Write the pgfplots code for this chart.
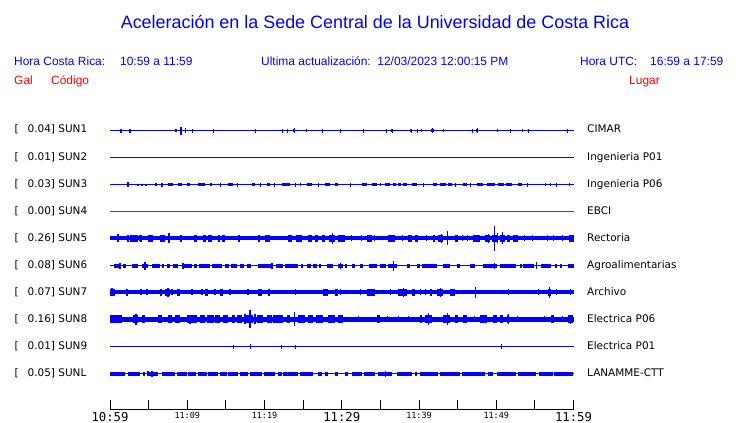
\documentclass[border=0pt]{standalone}
\usepackage{pgfplots}
\pgfplotsset{compat=1.18}
\usepackage{pgfplotstable}
\usepackage{fontspec}
\setmainfont{Liberation Sans}
\newfontfamily\dv{DejaVu Sans}
\newfontfamily\dvm{DejaVu Sans Mono}
\definecolor{tblue}{RGB}{0,0,255}
\definecolor{tred}{RGB}{255,0,0}

% ---------- SUN1 ----------
\pgfplotstableread{
t a
1.43 2
2.59 2
9.20 4
9.72 2.5
10.63 2
13.35 2
18.79 2
22.29 2
22.94 2
23.85 2.5
25.40 1.5
27.48 2
29.81 2
32.79 2
35.77 2
36.55 2
39.01 2
39.79 2
40.31 1.5
41.73 2.5
43.16 1.5
46.92 2
47.56 2.5
50.15 1.5
51.84 2
53.39 1.5
54.17 2
59.23 2
}\SunOneS
\pgfplotstableread{
t1 t2
8.42 8.68
9.07 9.33
23.72 23.98
36.42 36.68
38.88 39.14
41.60 41.99
47.43 47.69
}\SunOneB
% ---------- SUN3 ----------
\pgfplotstableread{
t a
2.33 2.5
3.63 1
4.15 1
4.67 1
6.74 2
14.26 2
16.46 2
19.44 2
21.25 2
23.98 2
24.62 1.5
26.96 2
31.10 2
34.99 1.5
40.56 2
44.71 2
46.66 2
54.04 2
56.38 1.5
57.02 1.5
57.80 2
59.49 1.5
}\SunThreeS
\pgfplotstableread{
t1 t2
5.83 6.09
7.52 8.16
8.81 9.33
9.98 10.37
11.40 12.31
12.96 13.22
15.29 15.94
18.40 18.79
20.35 20.74
22.29 23.33
25.53 26.18
27.86 28.51
29.16 29.55
32.66 33.31
33.96 34.60
35.64 36.29
36.68 37.06
37.32 37.71
37.97 38.49
39.14 39.79
41.86 42.38
42.77 43.55
43.81 44.32
45.75 46.27
47.56 48.34
48.86 49.89
50.28 51.06
51.32 52.10
52.75 53.39
}\SunThreeB
% ---------- SUN5 ----------
\pgfplotstableread{
t a
1.04 4
3.89 3
7.65 5
9.20 3.5
12.96 3.5
16.72 3.5
19.31 3.5
23.33 3
28.77 5.5
31.23 3
32.53 3
34.21 3
37.84 3
40.95 3
42.90 4.5
43.67 7
44.97 3
45.62 3
46.27 3
48.99 4.5
49.76 12.5
50.15 5
50.80 6
53.65 3
54.69 3
56.64 3
57.41 3
58.58 3
}\SunFiveS
\pgfplotstableread{
t1 t2
2.20 2.33
2.59 3.63
3.89 4.02
4.92 5.57
6.48 7.13
10.89 11.27
12.05 12.44
12.70 13.22
14.00 14.26
14.52 14.90
20.09 20.74
23.07 23.59
24.11 24.88
25.66 26.18
26.57 26.96
27.48 27.86
28.38 29.16
29.55 30.46
33.31 33.96
36.03 36.94
38.62 39.14
39.53 39.92
41.86 42.12
42.51 43.16
44.71 45.10
47.04 47.95
48.60 49.25
49.50 50.15
50.54 51.19
51.45 51.84
52.23 52.75
59.36 60.00
}\SunFiveB
% ---------- SUN6 ----------
\pgfplotstableread{
t a
1.30 3
4.54 4
9.46 3
20.99 3
29.81 3
36.68 5
49.76 3
55.21 3.5
}\SunSixS
\pgfplotstableread{
t1 t2
0.52 1.17
1.68 2.07
2.85 3.63
4.15 4.92
5.44 6.48
6.74 7.00
7.39 7.78
8.16 8.81
9.33 10.63
10.89 11.27
11.53 12.96
13.22 14.52
14.90 15.42
15.68 16.46
16.85 17.37
17.76 18.27
19.18 21.12
21.51 22.42
22.68 24.36
24.75 25.01
25.53 26.05
26.31 26.83
27.09 27.35
28.12 28.90
29.55 30.20
30.46 30.72
31.36 31.75
32.40 32.79
33.57 34.60
34.99 35.77
36.03 37.19
38.49 38.88
39.79 40.18
40.44 42.38
43.16 44.06
44.97 45.36
46.66 47.30
48.34 50.15
50.54 52.49
53.13 53.39
53.52 54.82
55.73 57.02
57.54 57.80
58.19 58.45
59.23 60.00
}\SunSixB
% ---------- SUN7 ----------
\pgfplotstableread{
t a
0.26 4
2.20 3.5
4.02 3
4.80 3
7.52 4.5
8.04 3
10.63 3
11.92 3
13.61 3
15.55 3
17.88 3
23.98 3
29.81 3
32.40 3
36.29 3
37.97 4.5
40.18 3
40.82 3
42.77 4.5
47.30 5.5
51.58 3
55.47 3
56.89 5.5
57.80 3
59.61 3
}\SunSevenS
\pgfplotstableread{
t1 t2
0.00 0.65
6.48 6.74
7.13 7.78
8.68 9.07
12.31 12.70
14.26 14.64
19.18 19.70
20.48 20.74
27.60 28.25
29.16 29.55
33.31 34.34
37.32 38.49
39.14 39.53
41.47 41.73
42.38 43.16
44.06 44.71
56.64 57.02
}\SunSevenB
% ---------- SUN8 ----------
\pgfplotstableread{
t a
3.37 5.5
10.37 4.5
13.35 4
17.50 5
18.14 9
18.79 5
23.85 7
27.48 4
32.14 3
35.90 3
37.32 3
38.62 3
41.21 6
43.67 6
47.17 3
50.54 4
51.58 5
52.75 3
56.25 3
58.58 3
59.61 4.5
}\SunEightS
\pgfplotstableread{
t1 t2
0.00 1.56
2.98 3.63
4.15 4.54
6.22 6.74
7.52 8.04
8.42 9.07
9.98 11.27
11.66 12.31
12.57 13.22
13.61 14.26
14.64 15.29
15.81 16.20
16.46 17.11
17.50 18.53
19.05 19.83
20.35 20.99
21.12 22.42
22.94 23.33
24.36 25.27
25.66 26.31
26.70 27.48
28.25 29.16
29.55 30.20
34.60 34.99
40.18 40.44
40.82 41.73
43.16 44.06
44.71 45.10
45.75 46.27
47.95 48.86
49.63 50.15
50.54 50.93
51.45 51.71
57.02 57.41
59.23 59.87
}\SunEightB
% ---------- SUN9 ----------
\pgfplotstableread{
t a
15.94 2
18.14 2.5
22.16 2
23.98 2
50.67 2.5
}\SunNineS
% ---------- SUNL ----------
\pgfplotstableread{
t a
4.92 2.5
5.44 3
35.64 3
}\SunLS
\pgfplotstableread{
t1 t2
0.00 1.94
2.33 3.89
4.28 4.54
4.92 6.22
6.74 8.42
8.68 9.98
10.11 11.14
11.40 12.57
12.70 14.00
14.26 15.16
15.29 16.59
16.85 17.88
18.14 19.70
19.96 21.38
21.77 22.29
22.42 24.36
24.62 26.31
26.96 27.48
27.86 28.25
29.16 29.55
30.46 30.84
31.36 32.66
32.92 34.34
34.73 36.55
37.19 39.14
39.53 39.66
40.18 42.51
42.77 45.36
45.62 48.60
48.99 49.63
50.15 52.49
52.75 55.08
55.47 57.28
57.41 59.87
}\SunLB

\newcommand{\base}[3]{\addplot[draw=#3, line width=#2, mark=none, forget plot] coordinates {(0,#1) (60,#1)};}
\newcommand{\spikes}[4]{\addplot[draw=none, no markers, forget plot,
  error bars/.cd, y dir=both, y explicit, error mark=none,
  error bar style={draw=#4, line width=#3}]
  table[x=t, y expr=#2, y error=a] {#1};}
\newcommand{\blocks}[4]{\addplot[draw=none, no markers, forget plot,
  error bars/.cd, x dir=both, x explicit, error mark=none,
  error bar style={draw=#4, line width=#3}]
  table[x expr=(\thisrow{t1}+\thisrow{t2})/2, y expr=#2, x error expr=(\thisrow{t2}-\thisrow{t1})/2] {#1};}

\begin{document}
\begin{tikzpicture}
\begin{axis}[at={(0,0)}, anchor=south west, scale only axis,
  width=740bp, height=423bp,
  xmin=-14.24, xmax=81.55, ymin=0, ymax=423, y dir=reverse,
  hide axis, clip=false]
  % SUN1
  \base{130.5}{1.2bp}{tblue}
  \blocks{\SunOneB}{130.5}{3bp}{tblue}
  \spikes{\SunOneS}{130.5}{1.2bp}{tblue}
  % SUN2
  \base{157.5}{1.2bp}{tblue}
  % SUN3
  \base{184.5}{1.2bp}{tblue}
  \blocks{\SunThreeB}{184.5}{3bp}{tblue}
  \spikes{\SunThreeS}{184.5}{1.2bp}{tblue}
  % SUN4
  \base{211.5}{1.2bp}{tred}
  % SUN5
  \base{238}{3.5bp}{tblue}
  \blocks{\SunFiveB}{238}{7bp}{tblue}
  \spikes{\SunFiveS}{238}{1.5bp}{tblue}
  % SUN6
  \base{265.5}{1.5bp}{tblue}
  \blocks{\SunSixB}{265.5}{4bp}{tblue}
  \spikes{\SunSixS}{265.5}{1.5bp}{tblue}
  % SUN7
  \base{292}{4bp}{tblue}
  \blocks{\SunSevenB}{292}{7bp}{tblue}
  \spikes{\SunSevenS}{292}{1.5bp}{tblue}
  % SUN8
  \base{319.3}{4.5bp}{tblue}
  \blocks{\SunEightB}{319.3}{8bp}{tblue}
  \spikes{\SunEightS}{319.3}{1.5bp}{tblue}
  % SUN9
  \base{346.5}{1.2bp}{tblue}
  \spikes{\SunNineS}{346.5}{1.2bp}{tblue}
  % SUNL
  \base{373.5}{1.5bp}{tblue}
  \blocks{\SunLB}{373.5}{4bp}{tblue}
  \spikes{\SunLS}{373.5}{1.5bp}{tblue}
\end{axis}
% time axis
\begin{axis}[at={(110bp,14bp)}, anchor=south west, scale only axis,
  width=463.5bp, height=9bp, xmin=0, xmax=60, ymin=0, ymax=1,
  axis x line*=bottom, axis y line=none,
  x axis line style={-, line width=1bp, black},
  xtick={0,5,...,60},
  xticklabels={{\fontsize{12.3}{13}\selectfont 10:59},,11:09,,11:19,,{\fontsize{12.3}{13}\selectfont 11:29},,11:39,,11:49,,{\fontsize{12.3}{13}\selectfont 11:59}},
  xtick align=inside, major tick length=9bp,
  xtick style={black, line width=1bp},
  xticklabel style={font=\dvm\fontsize{8.5}{9}\selectfont, inner sep=0pt, anchor=north, yshift=-3bp}]
  \addplot[draw=none, no markers, forget plot] coordinates {(0,0) (60,0)};
\end{axis}
% title and header
\node[anchor=base, inner sep=0, text=tblue, font=\fontsize{18}{20}\selectfont] at (375bp,394.5bp) {Aceleración en la Sede Central de la Universidad de Costa Rica};
\begin{scope}[every node/.style={anchor=base west, inner sep=0, text=tblue, font=\fontsize{12}{14}\selectfont}]
\node at (14bp,357.7bp) {Hora Costa Rica:};
\node at (120bp,357.7bp) {10:59 a 11:59};
\node at (261bp,357.7bp) {Ultima actualización:\ \ 12/03/2023 12:00:15 PM};
\node at (580bp,357.7bp) {Hora UTC:};
\node at (650bp,357.7bp) {16:59 a 17:59};
\end{scope}
\begin{scope}[every node/.style={anchor=base west, inner sep=0, text=tred, font=\fontsize{12}{14}\selectfont}]
\node at (14bp,338bp) {Gal};
\node at (51bp,338bp) {Código};
\node at (629bp,338bp) {Lugar};
\end{scope}
% trace labels
\begin{scope}[every node/.style={anchor=base west, inner sep=0, font=\dv\fontsize{10.5}{12}\selectfont}]
\foreach \yy/\gal/\cod/\lug in {
  290.2/0.04/SUN1/CIMAR,
  262.2/0.01/SUN2/Ingenieria P01,
  235.2/0.03/SUN3/Ingenieria P06,
  208.2/0.00/SUN4/EBCI,
  181.2/0.26/SUN5/Rectoria,
  154.2/0.08/SUN6/Agroalimentarias,
  127.2/0.07/SUN7/Archivo,
  100.2/0.16/SUN8/Electrica P06,
  73.2/0.01/SUN9/Electrica P01,
  46.2/0.05/SUNL/LANAMME-CTT}{
  \node at (14.5bp,\yy bp) {[};
  \node at (27.5bp,\yy bp) {\gal] \cod};
  \node at (587bp,\yy bp) {\lug};
}
\end{scope}
\pgfresetboundingbox
\path[use as bounding box] (0,0) rectangle (740bp,423bp);
\end{tikzpicture}
\end{document}
